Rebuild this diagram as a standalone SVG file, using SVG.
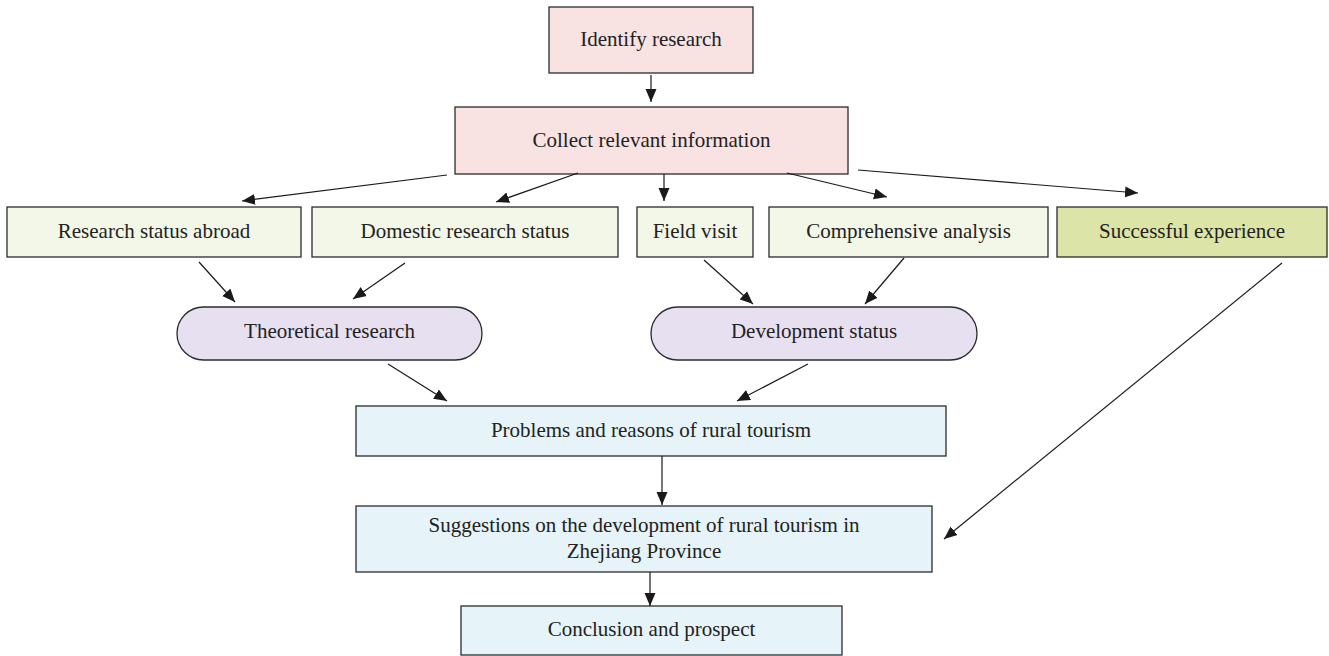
<svg xmlns="http://www.w3.org/2000/svg" width="1329" height="656" viewBox="0 0 1329 656">
  <style>
    .box { stroke: #2b2b2b; stroke-width: 1.3; }
    .pink { fill: #F8E3E2; }
    .lgreen { fill: #F3F7E8; }
    .olive { fill: #DCE5A7; }
    .lav { fill: #E7E0F0; }
    .blue { fill: #E6F4F9; }
    .t { font-family: "Liberation Serif", "Times New Roman", serif; font-size: 21px; fill: #222; text-anchor: middle; }
    .c { stroke: #1a1a1a; stroke-width: 1.2; fill: none; marker-end: url(#ah); }
  </style>
  <defs>
    <marker id="ah" markerUnits="userSpaceOnUse" markerWidth="14" markerHeight="12" refX="13" refY="6" orient="auto">
      <path d="M0,0.5 L13,6 L0,11.5 Z" fill="#1a1a1a"/>
    </marker>
  </defs>
  <rect width="1329" height="656" fill="#ffffff"/>

  <g id="identify">
    <rect class="box pink" x="549" y="7" width="204" height="66"/>
    <text class="t" x="651" y="46">Identify research</text>
  </g>
  <g id="collect">
    <rect class="box pink" x="455" y="107" width="393" height="67"/>
    <text class="t" x="651.5" y="147">Collect relevant information</text>
  </g>

  <g id="abroad">
    <rect class="box lgreen" x="7" y="207" width="294" height="50"/>
    <text class="t" x="154" y="237.5">Research status abroad</text>
  </g>
  <g id="domestic">
    <rect class="box lgreen" x="312" y="207" width="306" height="50"/>
    <text class="t" x="465" y="237.5">Domestic research status</text>
  </g>
  <g id="field">
    <rect class="box lgreen" x="637" y="207" width="116" height="50"/>
    <text class="t" x="695" y="237.5">Field visit</text>
  </g>
  <g id="comprehensive">
    <rect class="box lgreen" x="769" y="207" width="279" height="50"/>
    <text class="t" x="908.5" y="237.5">Comprehensive analysis</text>
  </g>
  <g id="successful">
    <rect class="box olive" x="1057" y="207" width="270" height="50"/>
    <text class="t" x="1192" y="237.5">Successful experience</text>
  </g>

  <g id="theoretical">
    <rect class="box lav" x="177" y="307" width="305" height="53" rx="26.5" ry="26.5"/>
    <text class="t" x="329.5" y="338">Theoretical research</text>
  </g>
  <g id="development">
    <rect class="box lav" x="651" y="307" width="326" height="53" rx="26.5" ry="26.5"/>
    <text class="t" x="814" y="338">Development status</text>
  </g>

  <g id="problems">
    <rect class="box blue" x="356" y="406" width="590" height="50"/>
    <text class="t" x="651" y="437">Problems and reasons of rural tourism</text>
  </g>
  <g id="suggestions">
    <rect class="box blue" x="356" y="506" width="576" height="66"/>
    <text class="t" x="644" y="532">Suggestions on the development of rural tourism in</text>
    <text class="t" x="644" y="558">Zhejiang Province</text>
  </g>
  <g id="conclusion">
    <rect class="box blue" x="461" y="606" width="381" height="49"/>
    <text class="t" x="651.5" y="636">Conclusion and prospect</text>
  </g>

  <g id="connectors">
    <line class="c" x1="651" y1="75" x2="651" y2="102"/>
    <line class="c" x1="447" y1="175" x2="242" y2="201"/>
    <line class="c" x1="578" y1="173" x2="496" y2="202"/>
    <line class="c" x1="664" y1="174" x2="664" y2="201"/>
    <line class="c" x1="787" y1="173" x2="887" y2="197"/>
    <line class="c" x1="858" y1="170" x2="1138" y2="193"/>
    <line class="c" x1="199" y1="262" x2="235" y2="302"/>
    <line class="c" x1="405" y1="263" x2="353" y2="299"/>
    <line class="c" x1="704" y1="260" x2="753" y2="304"/>
    <line class="c" x1="904" y1="258" x2="865" y2="304"/>
    <line class="c" x1="388" y1="364" x2="447" y2="401"/>
    <line class="c" x1="808" y1="364" x2="737" y2="401"/>
    <line class="c" x1="662" y1="456" x2="662" y2="505"/>
    <line class="c" x1="1282" y1="263" x2="944" y2="539"/>
    <line class="c" x1="650" y1="572" x2="650" y2="606"/>
  </g>
</svg>
